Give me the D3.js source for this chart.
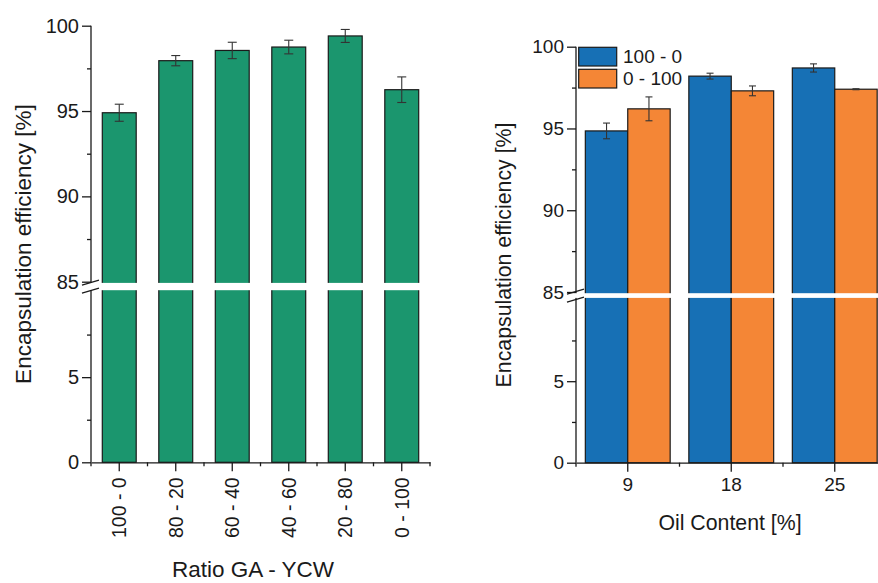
<!DOCTYPE html>
<html>
<head>
<meta charset="utf-8">
<script src="https://cdn.jsdelivr.net/npm/d3@7"></script>
<style>
  html, body { margin: 0; padding: 0; background: #fff; }
  svg text { font-family: "Liberation Sans", Arial, sans-serif; fill: #1a1a1a; }
</style>
</head>
<body>
<svg id="chart" width="878" height="583"></svg>
<script>
// Encapsulation efficiency vs. GA - YCW ratio
const ratioLabels = ["100 - 0", "80 - 20", "60 - 40", "40 - 60", "20 - 80", "0 - 100"];
const ratioEff = [94.9, 97.95, 98.55, 98.75, 99.4, 96.25];
const ratioErr = [0.5, 0.3, 0.48, 0.4, 0.38, 0.75];

// Encapsulation efficiency vs. oil content, two wall ratios
const oilContent = ["9", "18", "25"];
const seriesNames = ["100 - 0", "0 - 100"];
const effGA = [94.85, 98.2, 98.7];
const errGA = [0.48, 0.18, 0.25];
const effYCW = [96.2, 97.3, 97.4];
const errYCW = [0.73, 0.3, 0.03];

// Broken y axis ticks
const upperMajor = [85, 90, 95, 100];
const upperMinor = [87.5, 92.5, 97.5];
const lowerMajor = [0, 5];
const lowerMinor = [2.5, 7.5];

const svg = d3.select("#chart");
const ink = "#1a1a1a";

// Draws a y axis broken between 10 and 85
function brokenAxis(g, x0, yUp, yLow, xEnd, tickFont) {
  const up = g.append("g").attr("transform", `translate(${x0},0)`);
  up.call(d3.axisLeft(yUp).tickValues(upperMajor).tickSize(9).tickSizeOuter(0).tickPadding(3));
  up.append("g").call(d3.axisLeft(yUp).tickValues(upperMinor).tickSize(4).tickFormat(""));
  const lo = g.append("g").attr("transform", `translate(${x0},0)`);
  lo.call(d3.axisLeft(yLow).tickValues(lowerMajor).tickSize(9).tickSizeOuter(0).tickPadding(3));
  lo.append("g").call(d3.axisLeft(yLow).tickValues(lowerMinor).tickSize(4).tickFormat(""));
  [up, lo].forEach(a => {
    a.selectAll(".domain").remove();
    a.selectAll("line").attr("stroke", ink).attr("stroke-width", 1.3);
    a.selectAll("text").style("font-size", tickFont + "px").attr("fill", ink);
  });
  // continuous spine
  g.append("line").attr("x1", x0).attr("x2", x0)
    .attr("y1", yUp(100)).attr("y2", yLow(0))
    .attr("stroke", ink).attr("stroke-width", 1.3);
  // white gap across the bars
  const yA = yUp(85) + 1.2, yB = yLow(10) - 1.8;
  g.append("rect")
    .attr("x", x0 + 1).attr("width", xEnd - x0)
    .attr("y", yA).attr("height", yB - yA).attr("fill", "#fff");
  g.append("rect").attr("x", x0 - 1).attr("width", 2)
    .attr("y", yA).attr("height", yB - yA).attr("fill", "#fff");
  // break slashes
  const ym = (yA + yB) / 2;
  [-4, 4].forEach(dy => {
    g.append("line")
      .attr("x1", x0 - 9).attr("y1", ym + dy + 2.5)
      .attr("x2", x0 + 8).attr("y2", ym + dy - 2.5)
      .attr("stroke", ink).attr("stroke-width", 1.2);
  });
}

function errorBars(g, data, capW) {
  const e = g.append("g").attr("stroke", "#333").attr("stroke-width", 1.1);
  data.forEach(d => {
    e.append("line").attr("x1", d.x).attr("x2", d.x).attr("y1", d.y1).attr("y2", d.y2);
    e.append("line").attr("x1", d.x - capW / 2).attr("x2", d.x + capW / 2).attr("y1", d.y1).attr("y2", d.y1);
    e.append("line").attr("x1", d.x - capW / 2).attr("x2", d.x + capW / 2).attr("y1", d.y2).attr("y2", d.y2);
  });
}

// ---------- left panel ----------
{
  const tickFont = 20, titleFont = 22.5;
  const g = svg.append("g");
  const x0 = 91, x1 = 430;
  const x = d3.scaleBand().domain(ratioLabels).range([x0, x1]).paddingInner(0.4).paddingOuter(0.2);
  const yUp = d3.scaleLinear().domain([85, 100]).range([281.7, 25.7]);
  const yLow = d3.scaleLinear().domain([0, 10]).range([462.3, 292]);

  g.selectAll("rect.bar").data(ratioEff).join("rect").attr("class", "bar")
    .attr("x", (d, i) => x(ratioLabels[i]))
    .attr("width", x.bandwidth())
    .attr("y", d => yUp(d))
    .attr("height", d => yLow(0) - yUp(d))
    .attr("fill", "#1b966e").attr("stroke", ink).attr("stroke-width", 1.2);

  errorBars(g, ratioEff.map((v, i) => ({
    x: x(ratioLabels[i]) + x.bandwidth() / 2,
    y1: yUp(v + ratioErr[i]), y2: yUp(v - ratioErr[i])
  })), 9);

  brokenAxis(g, x0, yUp, yLow, x1, tickFont);

  // x axis
  const xa = d3.scaleBand().domain(ratioLabels).range([x0, x1]);
  const ax = g.append("g").attr("transform", `translate(0,${yLow(0)})`)
    .call(d3.axisBottom(xa).tickSize(9).tickSizeOuter(0).tickPadding(6));
  ax.select(".domain").attr("stroke", ink).attr("stroke-width", 1.3);
  ax.selectAll("line").attr("stroke", ink).attr("stroke-width", 1.3);
  ax.selectAll("text")
    .style("font-size", "19.5px").attr("fill", ink)
    .attr("transform", "rotate(-90)")
    .attr("text-anchor", "end").attr("dy", "0.35em").attr("x", -15).attr("y", 0);
  const bounds = xa.domain().map(d => xa(d)).concat([x1]);
  g.append("g").selectAll("line").data(bounds).join("line")
    .attr("x1", d => d).attr("x2", d => d)
    .attr("y1", yLow(0)).attr("y2", yLow(0) + 4)
    .attr("stroke", ink).attr("stroke-width", 1.3);

  g.append("text").attr("x", 253).attr("y", 577).attr("text-anchor", "middle")
    .style("font-size", titleFont + "px").text("Ratio GA - YCW");
  g.append("text").attr("transform", `translate(31,244) rotate(-90)`)
    .attr("text-anchor", "middle").style("font-size", titleFont + "px")
    .text("Encapsulation efficiency [%]");
}

// ---------- right panel ----------
{
  const tickFont = 19, titleFont = 21.3;
  const g = svg.append("g");
  const x0 = 576, band = 103.5;
  const x1 = x0 + band * oilContent.length;
  const x = d3.scaleBand().domain(oilContent).range([x0, x1]);
  const xs = d3.scaleBand().domain(seriesNames).range([0, band]).paddingOuter(0.22).paddingInner(0);
  const yUp = d3.scaleLinear().domain([85, 100]).range([292, 46.7]);
  const yLow = d3.scaleLinear().domain([0, 10]).range([462.7, 299.7]);
  const colors = { "100 - 0": "#1770b5", "0 - 100": "#f48636" };
  const rows = [
    { name: "100 - 0", v: effGA, e: errGA },
    { name: "0 - 100", v: effYCW, e: errYCW }
  ];

  rows.forEach(r => {
    g.append("g").selectAll("rect").data(r.v).join("rect")
      .attr("x", (d, i) => x(oilContent[i]) + xs(r.name))
      .attr("width", xs.bandwidth())
      .attr("y", d => yUp(d))
      .attr("height", d => yLow(0) - yUp(d))
      .attr("fill", colors[r.name]).attr("stroke", ink).attr("stroke-width", 1.2);
  });
  rows.forEach(r => {
    errorBars(g, r.v.map((v, i) => ({
      x: x(oilContent[i]) + xs(r.name) + xs.bandwidth() / 2,
      y1: yUp(v + r.e[i]), y2: yUp(v - r.e[i])
    })), 7);
  });

  brokenAxis(g, x0, yUp, yLow, 878, tickFont);

  const ax = g.append("g").attr("transform", `translate(0,${yLow(0)})`)
    .call(d3.axisBottom(x).tickSize(9).tickSizeOuter(0).tickPadding(6));
  ax.select(".domain").attr("stroke", ink).attr("stroke-width", 1.3);
  ax.selectAll("line").attr("stroke", ink).attr("stroke-width", 1.3);
  ax.selectAll("text").style("font-size", tickFont + "px").attr("fill", ink);
  g.append("g").selectAll("line").data(oilContent.map(d => x(d))).join("line")
    .attr("x1", d => d).attr("x2", d => d)
    .attr("y1", yLow(0)).attr("y2", yLow(0) + 4)
    .attr("stroke", ink).attr("stroke-width", 1.3);

  g.append("text").attr("x", 730).attr("y", 530).attr("text-anchor", "middle")
    .style("font-size", titleFont + "px").text("Oil Content [%]");
  g.append("text").attr("transform", `translate(511,255) rotate(-90)`)
    .attr("text-anchor", "middle").style("font-size", titleFont + "px")
    .text("Encapsulation efficiency [%]");

  // legend
  const lg = g.append("g");
  seriesNames.forEach((n, i) => {
    const yy = 47.3 + i * 22;
    lg.append("rect").attr("x", 578.7).attr("y", yy).attr("width", 38).attr("height", 18.7)
      .attr("fill", colors[n]).attr("stroke", ink).attr("stroke-width", 1.2);
    lg.append("text").attr("x", 623).attr("y", yy + 16).style("font-size", tickFont + "px").text(n);
  });
}
</script>
</body>
</html>
